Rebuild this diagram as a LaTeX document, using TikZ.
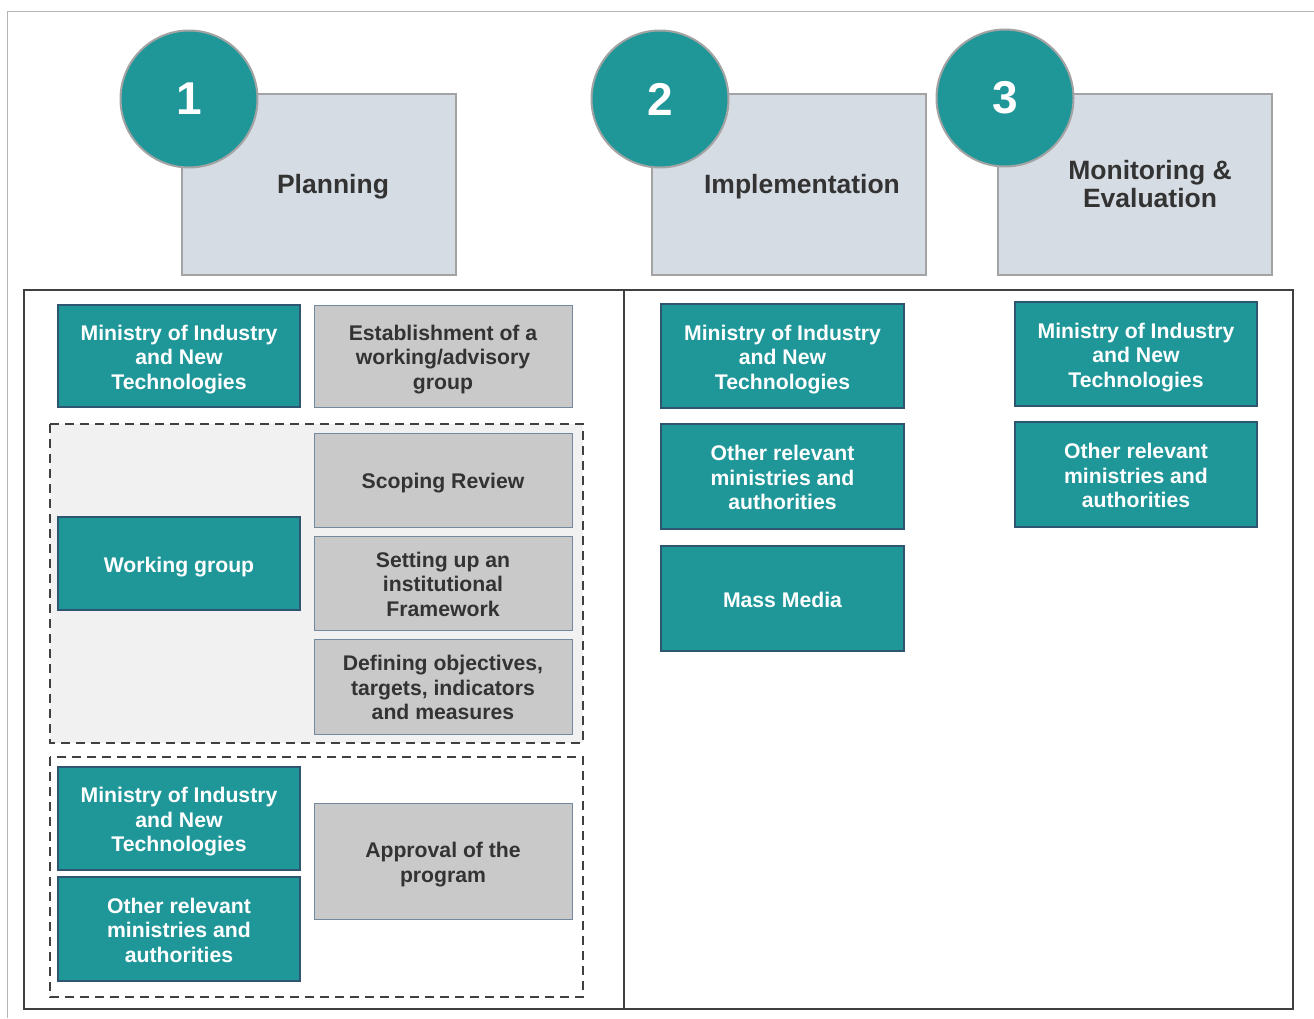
\documentclass[tikz,border=0pt]{standalone}
\usepackage{fontspec}
\setmainfont{Liberation Sans}
\definecolor{tealc}{HTML}{1F9799}
\definecolor{tealborder}{HTML}{2F5670}
\definecolor{hdrfill}{HTML}{D6DCE4}
\definecolor{hdrborder}{HTML}{A3A3A3}
\definecolor{grayfill}{HTML}{C9C9C9}
\definecolor{grayborder}{HTML}{7289A0}
\definecolor{txtdark}{HTML}{333333}
\definecolor{dashfill}{HTML}{F1F1F1}
\definecolor{framec}{HTML}{404040}
\tikzset{
  boxtext/.style={font=\fontsize{21.2pt}{24.5pt}\selectfont\bfseries, align=center, inner sep=0pt, text depth=0pt, yshift=-1.2pt},
  tealbox/.style={draw=tealborder, line width=2pt, fill=tealc, inner sep=0pt,
    label={[boxtext, text=white]center:#1}},
  graybox/.style={draw=grayborder, line width=1pt, fill=grayfill, inner sep=0pt,
    label={[boxtext, text=txtdark]center:#1}},
  hdrbox/.style={draw=hdrborder, line width=2pt, fill=hdrfill, inner sep=0pt},
  hdrtext/.style={text=txtdark, font=\fontsize{26.5pt}{28pt}\selectfont\bfseries, align=center, inner sep=0pt},
  numcircle/.style={circle, draw=hdrborder, line width=2pt, fill=tealc, text=white,
    font=\fontsize{46pt}{50pt}\selectfont\bfseries, minimum size=137pt, inner sep=0pt},
  dashbox/.style={draw=framec, line width=2.6pt, dash pattern=on 9pt off 6pt},
  frameline/.style={draw=framec, line width=1.3pt}
}
\begin{document}
\begin{tikzpicture}[x=1pt,y=-1pt]
\useasboundingbox (0,0) rectangle (1314,1018);
% outer light frame
\draw[draw=hdrborder!80, line width=1pt] (7,1018) -- (7,11) -- (1314,11);

% headers
\node[hdrbox, minimum width=274pt, minimum height=181pt] (h1) at (319,184.5) {};
\node[hdrbox, minimum width=274pt, minimum height=181pt] (h2) at (789,184.5) {};
\node[hdrbox, minimum width=274pt, minimum height=181pt] (h3) at (1135,184.5) {};
\node[hdrtext] (t1) at (333,186.5) {Planning};
\node[hdrtext] (t2) at (802,186.5) {Implementation};
\node[hdrtext] (t3) at (1150,184) {Monitoring \&\\Evaluation};
\node[numcircle] (c1) at (189,99) {1};
\node[numcircle] (c2) at (660,99) {2};
\node[numcircle] (c3) at (1005,98) {3};

% main frame
\draw[frameline] (24,290) rectangle (1293,1009);
\draw[frameline] (624,290) -- (624,1009);

% dashed groups
\draw[dashbox, fill=dashfill] (50,424) rectangle (583,743);
\draw[dashbox] (50,757) rectangle (583,997);

% left column
\node[tealbox={{Ministry of Industry\\and New\\Technologies}}, minimum width=242pt, minimum height=102pt] (l1) at (179,356) {};
\node[graybox={{Establishment of a\\working/advisory\\group}}, minimum width=258pt, minimum height=102pt] (g1) at (443,356) {};
\node[tealbox={{Working group}}, minimum width=242pt, minimum height=93pt] (wg) at (179,563.5) {};
\node[graybox={{Scoping Review}}, minimum width=258pt, minimum height=94pt] (g2) at (443,480) {};
\node[graybox={{Setting up an\\institutional\\Framework}}, minimum width=258pt, minimum height=94pt] (g3) at (443,583) {};
\node[graybox={{Defining objectives,\\targets, indicators\\and measures}}, minimum width=258pt, minimum height=95pt] (g4) at (443,686.5) {};
\node[tealbox={{Ministry of Industry\\and New\\Technologies}}, minimum width=242pt, minimum height=103pt] (l2) at (179,818.5) {};
\node[tealbox={{Other relevant\\ministries and\\authorities}}, minimum width=242pt, minimum height=104pt] (l3) at (179,929) {};
\node[graybox={{Approval of the\\program}}, minimum width=258pt, minimum height=116pt] (g5) at (443,861) {};

% middle column
\node[tealbox={{Ministry of Industry\\and New\\Technologies}}, minimum width=243pt, minimum height=104pt] (m1) at (782.5,356) {};
\node[tealbox={{Other relevant\\ministries and\\authorities}}, minimum width=243pt, minimum height=105pt] (m2) at (782.5,476.5) {};
\node[tealbox={{Mass Media}}, minimum width=243pt, minimum height=105pt] (m3) at (782.5,598.5) {};

% right column
\node[tealbox={{Ministry of Industry\\and New\\Technologies}}, minimum width=242pt, minimum height=104pt] (r1) at (1136,354) {};
\node[tealbox={{Other relevant\\ministries and\\authorities}}, minimum width=242pt, minimum height=105pt] (r2) at (1136,474.5) {};
\end{tikzpicture}
\end{document}
